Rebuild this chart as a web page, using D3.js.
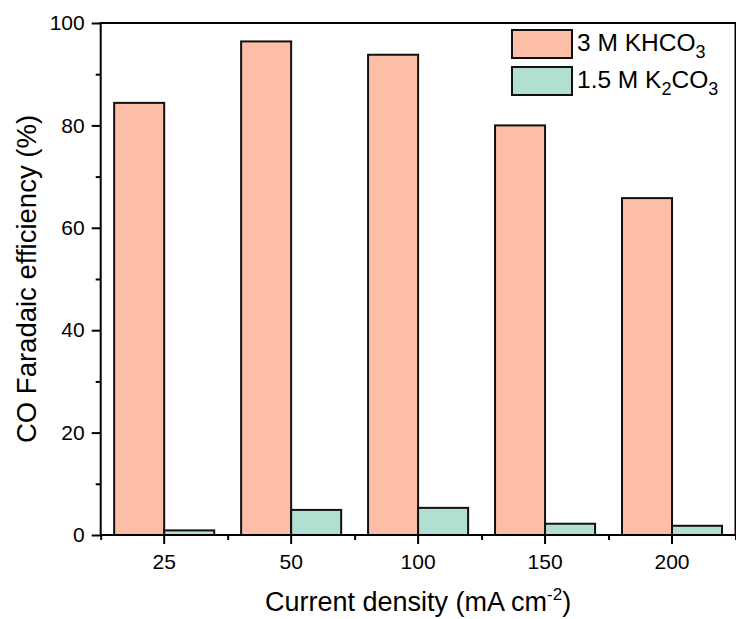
<!DOCTYPE html>
<html>
<head>
<meta charset="utf-8">
<script src="https://cdn.jsdelivr.net/npm/d3@7"></script>
<style>
  html, body { margin: 0; padding: 0; background: #fff; }
  svg { display: block; font-family: "Liberation Sans", Arial, Helvetica, sans-serif; }
</style>
</head>
<body>
<svg id="chart" width="736" height="619"></svg>
<script>
// Current densities (mA cm^-2) and CO Faradaic efficiencies (%)
const categories = ["25", "50", "100", "150", "200"];
const khco3 = [84.4, 96.4, 93.8, 80.0, 65.8];
const k2co3 = [0.9, 4.9, 5.3, 2.2, 1.8];
const yTicks = [0, 20, 40, 60, 80, 100];
const yMinorTicks = [10, 30, 50, 70, 90];

const colors = { khco3: "#fcbea6", k2co3: "#b1dfd0" };

const svg = d3.select("#chart");
const plotLeft = 100.7, plotRight = 735.5, plotTop = 23, plotBottom = 535;

const x = d3.scaleBand().domain(categories).range([plotLeft, plotRight]).paddingInner(0).paddingOuter(0);
const y = d3.scaleLinear().domain([0, 100]).range([plotBottom, plotTop]);
const barW = x.bandwidth() * 0.394;

// Bars: KHCO3 left of each tick, K2CO3 right of it
const groups = svg.append("g");
categories.forEach((c, i) => {
  const cx = x(c) + x.bandwidth() / 2;
  groups.append("rect")
    .attr("x", cx - barW).attr("y", y(khco3[i]))
    .attr("width", barW).attr("height", y(0) - y(khco3[i]))
    .attr("fill", colors.khco3).attr("stroke", "#111").attr("stroke-width", 2);
  groups.append("rect")
    .attr("x", cx).attr("y", y(k2co3[i]))
    .attr("width", barW).attr("height", y(0) - y(k2co3[i]))
    .attr("fill", colors.k2co3).attr("stroke", "#111").attr("stroke-width", 2);
});

// Frame
svg.append("rect")
  .attr("x", plotLeft).attr("y", plotTop)
  .attr("width", plotRight - plotLeft).attr("height", plotBottom - plotTop)
  .attr("fill", "none").attr("stroke", "#000").attr("stroke-width", 2);

// Y axis
const yAxis = svg.append("g")
  .attr("transform", `translate(${plotLeft},0)`)
  .call(d3.axisLeft(y).tickValues(yTicks).tickSize(9).tickPadding(7).tickFormat(d3.format("d")));
yAxis.select(".domain").remove();
yAxis.selectAll(".tick line").attr("stroke", "#000").attr("stroke-width", 2);
yAxis.selectAll(".tick text").attr("font-size", 21).attr("fill", "#000")
  .attr("font-family", "Liberation Sans, Arial, sans-serif");

const yMinor = svg.append("g")
  .attr("transform", `translate(${plotLeft},0)`)
  .call(d3.axisLeft(y).tickValues(yMinorTicks).tickSize(5).tickFormat(""));
yMinor.select(".domain").remove();
yMinor.selectAll(".tick line").attr("stroke", "#000").attr("stroke-width", 2);

// X axis: labelled ticks at bar pairs, minor ticks at band edges
const xAxis = svg.append("g")
  .attr("transform", `translate(0,${plotBottom})`)
  .call(d3.axisBottom(x).tickSize(9).tickPadding(10));
xAxis.select(".domain").remove();
xAxis.selectAll(".tick line").attr("stroke", "#000").attr("stroke-width", 2);
xAxis.selectAll(".tick text").attr("font-size", 21).attr("fill", "#000")
  .attr("font-family", "Liberation Sans, Arial, sans-serif");

const edges = categories.map(c => x(c)).concat([x(categories[categories.length - 1]) + x.bandwidth()]);
const xEdge = d3.scaleLinear().domain([plotLeft, plotRight]).range([plotLeft, plotRight]);
const xMinor = svg.append("g")
  .attr("transform", `translate(0,${plotBottom})`)
  .call(d3.axisBottom(xEdge).tickValues(edges).tickSize(5).tickFormat(""));
xMinor.select(".domain").remove();
xMinor.selectAll(".tick line").attr("stroke", "#000").attr("stroke-width", 2);

// Axis titles
const xt = svg.append("text")
  .attr("x", (plotLeft + plotRight) / 2).attr("y", 611)
  .attr("text-anchor", "middle").attr("font-size", 27).attr("fill", "#000");
xt.append("tspan").text("Current density (mA cm");
xt.append("tspan").attr("dy", -11).attr("font-size", 17).text("-2");
xt.append("tspan").attr("dy", 11).text(")");

svg.append("text")
  .attr("transform", `translate(36,${(plotTop + plotBottom) / 2}) rotate(-90)`)
  .attr("text-anchor", "middle").attr("font-size", 27.5).attr("fill", "#000")
  .text("CO Faradaic efficiency (%)");

// Legend
const legendItems = [
  { color: colors.khco3, parts: [["3 M KHCO", 0], ["3", 1]] },
  { color: colors.k2co3, parts: [["1.5 M K", 0], ["2", 1], ["CO", 0], ["3", 1]] }
];
const legend = svg.append("g");
legendItems.forEach((item, i) => {
  const gy = 30 + i * 37;
  legend.append("rect")
    .attr("x", 512).attr("y", gy).attr("width", 60).attr("height", 28)
    .attr("fill", item.color).attr("stroke", "#111").attr("stroke-width", 2);
  const t = legend.append("text")
    .attr("x", 577).attr("y", gy + 21).attr("font-size", 24.5).attr("fill", "#000");
  let shifted = false;
  item.parts.forEach(([s, sub]) => {
    const ts = t.append("tspan").text(s);
    if (sub && !shifted) { ts.attr("dy", 7).attr("font-size", 18); shifted = true; }
    else if (!sub && shifted) { ts.attr("dy", -7); shifted = false; }
  });
});
</script>
</body>
</html>
